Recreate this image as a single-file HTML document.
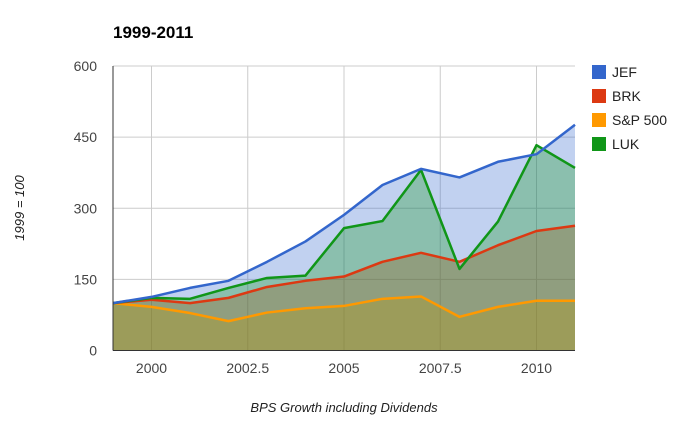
<!DOCTYPE html>
<html><head><meta charset="utf-8"><style>
body{margin:0;background:#fff;font-family:"Liberation Sans",Arial,sans-serif}
svg{display:block}
</style></head><body>
<svg id="chart" width="687" height="424">
<text x="113" y="38" font-size="17" font-weight="bold" fill="#000">1999-2011</text>
<g id="grid"></g><g id="areas"></g><g id="lines"></g><g id="axes"></g><g id="legend"></g>
<text transform="translate(24,208) rotate(-90)" text-anchor="middle" font-size="13" font-style="italic" fill="#222">1999 = 100</text>
<text x="344" y="412" text-anchor="middle" font-size="13" font-style="italic" fill="#222">BPS Growth including Dividends</text>
</svg>
<script>
const years=[1999,2000,2001,2002,2003,2004,2005,2006,2007,2008,2009,2010,2011];
const jef=[100,113,132,147,187,230,286,349,383,365,398,414,476];
const brk=[100,107,100,111,134,147,156,187,206,187,222,252,263];
const sp=[100,92,79,62,80,89,94,109,114,71,92,105,105];
const luk=[100,111,109,132,153,158,258,273,381,172,272,433,385];
const yTicks=[0,150,300,450,600];
const xTicks=[2000,2002.5,2005,2007.5,2010];
const xTickLabels=["2000","2002.5","2005","2007.5","2010"];
const seriesNames=["JEF","BRK","S&P 500","LUK"];
const colors=["#3366cc","#dc3912","#ff9900","#109618"];
const L=113,R=575,T=66,B=350.5;
const xs=v=>L+(v-1999)/(2011-1999)*(R-L);
const ys=v=>B-v/600*(B-T);
const NS="http://www.w3.org/2000/svg";
function mk(tag,attrs,parent){const e=document.createElementNS(NS,tag);for(const k in attrs)e.setAttribute(k,attrs[k]);parent.appendChild(e);return e;}
const grid=document.getElementById('grid'),axes=document.getElementById('axes');
yTicks.forEach(t=>{
 if(t>0){const g=mk('line',{x1:L,x2:R,y1:ys(t),y2:ys(t),stroke:'#ccc'},grid);
 
 }
 const tx=mk('text',{x:L-16,y:ys(t)+5,'text-anchor':'end','font-size':14,fill:'#444'},axes);tx.textContent=t;
 
 
});
xTicks.forEach((t,i)=>{
 const g=mk('line',{x1:xs(t),x2:xs(t),y1:T,y2:B,stroke:'#ccc'},grid);
 
 
 const tx=mk('text',{x:xs(t),y:373,'text-anchor':'middle','font-size':14,fill:'#444'},axes);tx.textContent=xTickLabels[i];
 
 
});
const series=[jef,brk,sp,luk];
const areas=document.getElementById('areas'),lines=document.getElementById('lines');
series.forEach((s,i)=>{
 const pts=s.map((v,j)=>xs(years[j])+','+ys(v)).join(' ');
 const a=mk('polygon',{points:xs(1999)+','+B+' '+pts+' '+xs(2011)+','+B,fill:colors[i],'fill-opacity':0.3},areas);
 
 
});
[2,1,3,0].forEach(i=>{
 const s=series[i];
 const pts=s.map((v,j)=>xs(years[j])+','+ys(v)).join(' ');
 const l=mk('polyline',{points:pts,fill:'none',stroke:colors[i],'stroke-width':2.5,'stroke-linejoin':'round'},lines);
 
 
});
mk('line',{x1:L,x2:L,y1:T,y2:B,stroke:'#333'},axes);
mk('line',{x1:L,x2:R,y1:B,y2:B,stroke:'#333'},axes);
const lg=document.getElementById('legend');
seriesNames.forEach((n,i)=>{
 const y=72+i*24;
 const g=mk('g',{},lg);
 
 
 mk('rect',{x:592,y:y-7,width:14,height:14,fill:colors[i]},g);
 const t=mk('text',{x:612,y:y+5,'font-size':14,fill:'#222'},g);t.textContent=n;
});
</script>
</body></html>
